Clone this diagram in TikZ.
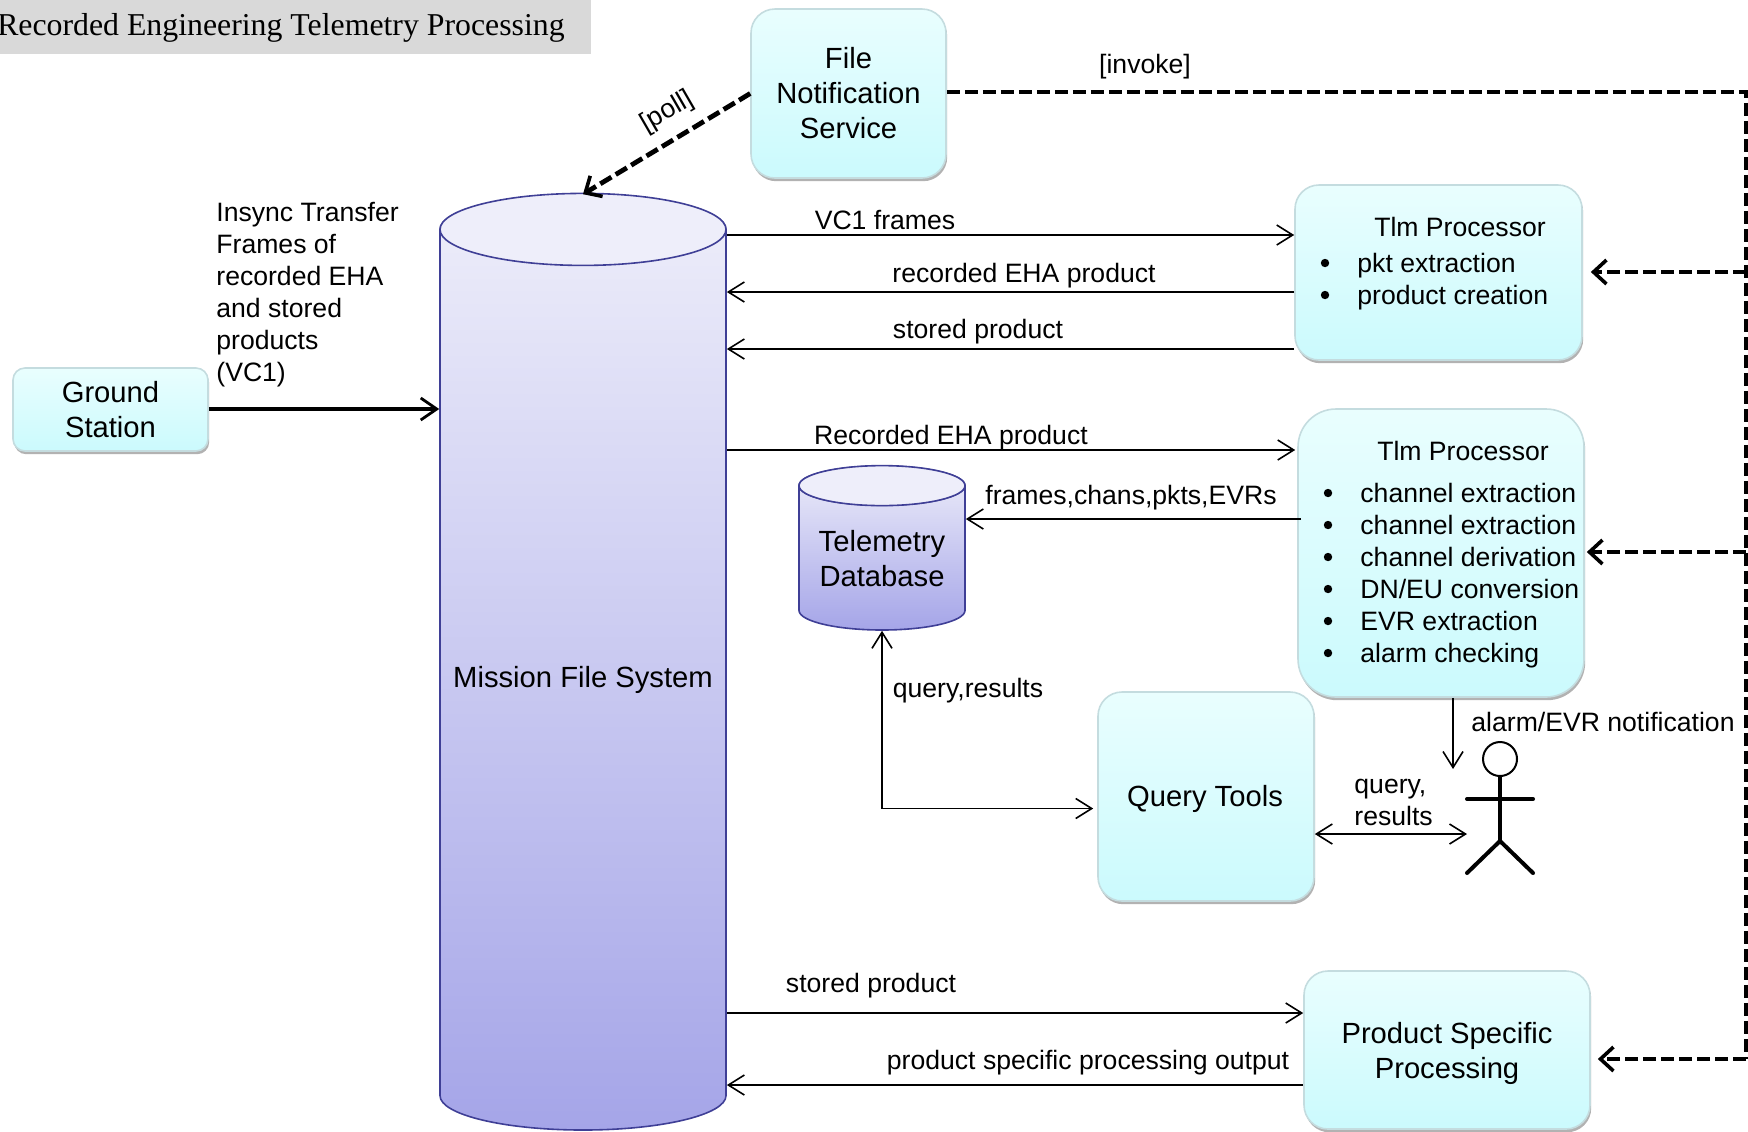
\documentclass[tikz,border=0pt]{standalone}
\usepackage{fontspec}
\setmainfont{Liberation Sans}
\newfontfamily\headfont{Liberation Serif}
\usetikzlibrary{shapes.geometric, arrows.meta, shadows, calc}
\definecolor{boxedge}{HTML}{C4DCDF}
\definecolor{boxtop}{HTML}{E9FEFE}
\definecolor{boxbot}{HTML}{CBFAFD}
\definecolor{dbedge}{HTML}{3F3F96}
\definecolor{dbtop}{HTML}{EEEEFA}
\definecolor{dbbot}{HTML}{A5A5E8}
\newcommand{\smalltxt}{\fontsize{13.3}{16}\selectfont}
\newcommand{\bigtxt}{\fontsize{14.6}{17.5}\selectfont}
\tikzset{
    procbox/.style={draw=boxedge, line width=.8pt, rounded corners=12pt, top color=boxtop, bottom color=boxbot, inner sep=0pt, align=center, font=\bigtxt, drop shadow={shadow xshift=.6pt, shadow yshift=-1.6pt, fill=black!55, opacity=.55}},
    store/.style={cylinder, shape border rotate=90, draw=dbedge, line width=.8pt, top color=dbtop, bottom color=dbbot, inner sep=0pt, align=center, font=\bigtxt, anchor=shape center},
    storelid/.style={draw=dbedge, line width=.8pt, fill=dbtop},
    lab/.style={font=\smalltxt, inner sep=0pt},
    biglab/.style={font=\bigtxt, inner sep=0pt, align=center},
    bulletdot/.style={circle, fill=black, minimum size=4.2pt, inner sep=0pt},
    flow/.style={line width=.9pt, -{Straight Barb[length=8pt, width=10pt, line width=.8pt]}},
    flowboth/.style={line width=.9pt, {Straight Barb[length=8pt, width=10pt, line width=.8pt]}-{Straight Barb[length=8pt, width=10pt, line width=.8pt]}},
    trigger/.style={line width=2.4pt, dash pattern=on 6.5pt off 2.5pt},
    triggerto/.style={trigger, -{Straight Barb[length=6.5pt, width=12pt, line width=1.8pt]}},
    limb/.style={line width=2pt, line cap=round}
}
\begin{document}
\begin{tikzpicture}[x=.5pt, y=-.5pt]

    \useasboundingbox (0,0) rectangle (1748,1131);

    \fill[black!15] (0,0) rectangle (591,54);
    \node (heading) [anchor=east, inner sep=0pt, font=\headfont\fontsize{15.9}{18}\selectfont] at (565,28) {Recorded Engineering Telemetry Processing};

    \node (mfs) [store, minimum width=143pt, minimum height=467.5pt, aspect=.265] at (583,662.5) {\raisebox{-1.2pt}{Mission File System}};
    \draw[storelid] ($(mfs.before top)!.5!(mfs.after top)$) ellipse [x radius=143, y radius=36];

    \node (teldb) [store, minimum width=83pt, minimum height=82pt, aspect=.31] at (882,548) {Telemetry\\Database};
    \draw[storelid] ($(teldb.before top)!.5!(teldb.after top)$) ellipse [x radius=83, y radius=20];

    \node (ground) [procbox, rounded corners=6pt, minimum width=97.5pt, minimum height=41.5pt] at (110.5,409.5) {Ground\\Station};
    \node (notify) [procbox, minimum width=97.5pt, minimum height=84.5pt] at (848.5,93.5) {File\\Notification\\Service};
    \node (tlmrec) [procbox, minimum width=143.5pt, minimum height=87.5pt] at (1438.5,272.5) {};
    \node (tlmchan) [procbox, rounded corners=19pt, minimum width=143pt, minimum height=144pt] at (1441,553) {};
    \node (query) [procbox, minimum width=108pt, minimum height=104.5pt] at (1206,796.5) {};
    \node (prodsp) [procbox, minimum width=143pt, minimum height=79pt] at (1447,1050) {};
    \node (querytitle) [biglab] at (1205,799) {Query Tools};
    \node (prodsptitle) [biglab] at (1447,1053) {Product Specific\\Processing};

    \node (tlmrectitle) [lab] at (1460,227) {Tlm Processor};
    \foreach \txt [count=\nu from 0, evaluate={\yy=272+32*\nu; \yb=\yy-9;}] in {pkt extraction, product creation} {
        \node (recbul\nu) [bulletdot] at (1325,\yb) {};
        \node (recitem\nu) [lab, anchor=base west] at (1357,\yy) {\txt};
    }
    \node (tlmchantitle) [lab] at (1463,451) {Tlm Processor};
    \foreach \txt [count=\nu from 0, evaluate={\yy=502+32*\nu; \yb=\yy-9;}] in {channel extraction, channel extraction, channel derivation, DN/EU conversion, EVR extraction, alarm checking} {
        \node (chanbul\nu) [bulletdot] at (1328,\yb) {};
        \node (chanitem\nu) [lab, anchor=base west] at (1360,\yy) {\txt};
    }

    \node (head) [circle, draw, line width=1pt, fill=white, minimum size=17pt, inner sep=0pt] at (1500,759) {};
    \coordinate (hip) at (1500,841);
    \coordinate (armleft) at (1467,799);
    \coordinate (armright) at (1533,799);
    \coordinate (footleft) at (1467,873);
    \coordinate (footright) at (1533,873);
    \draw[limb] (head.south) -- (hip);
    \draw[limb] (armleft) -- (armright);
    \draw[limb] (footleft) -- (hip) -- (footright);

    \draw[line width=1.7pt, -{Straight Barb[length=8pt, width=11pt, line width=1.4pt]}] (ground.east |- 0,409) -- (mfs.west |- 0,409);
    \draw[flow] (mfs.east |- 0,235) -- (tlmrec.west |- 0,235);
    \draw[flow] (tlmrec.west |- 0,292) -- (mfs.east |- 0,292);
    \draw[flow] (tlmrec.west |- 0,349) -- (mfs.east |- 0,349);
    \draw[flow, shorten >=1pt] (mfs.east |- 0,450) -- (tlmchan.west |- 0,450);
    \draw[flow] ($(tlmchan.west |- 0,519)+(4,0)$) -- (teldb.east |- 0,519);
    \draw[flowboth, shorten >=2pt] (teldb.south) |- ([yshift=-6pt]query.west);
    \draw[flow] (tlmchan.south -| 1453,0) -- (1453,769);
    \draw[flowboth] (query.east |- 0,834) -- (armleft |- 0,834);
    \draw[flow] (mfs.east |- 0,1013) -- (prodsp.west |- 0,1013);
    \draw[flow] (prodsp.west |- 0,1085) -- (mfs.east |- 0,1085);

    \coordinate (bend) at (1746,92);
    \draw[trigger] (notify.east |- bend) -- (bend) -- (1746,1059);
    \draw[triggerto] (notify.west) -- (mfs.top);
    \draw[triggerto, shorten >=4pt] (1746,272) -- (tlmrec.east |- 0,272);
    \draw[triggerto, shorten >=1pt] (1746,552) -- (tlmchan.east |- 0,552);
    \draw[triggerto, shorten >=3.5pt] (1746,1059) -- (prodsp.east |- 0,1059);

    \node (poll) [lab, rotate=30] at (667,112) {[poll]};
    \node (invoke) [lab] at (1145,67) {[invoke]};
    \node (insync) [lab, anchor=west, align=left] at (216,295) {Insync Transfer\\Frames of\\recorded EHA\\and stored\\products\\(VC1)};
    \node (vcframes) [lab] at (885,220) {VC1 frames};
    \node (recprod) [lab] at (1024,276) {recorded EHA product};
    \node (storedup) [lab] at (978,332) {stored product};
    \node (recprodb) [lab] at (951,438) {Recorded EHA product};
    \node (frameslab) [lab] at (1131,498) {frames,chans,pkts,EVRs};
    \node (querylab) [lab] at (968,691) {query,results};
    \node (alarmlab) [lab] at (1603,722) {alarm/EVR notification};
    \node (queryact) [lab, anchor=west, align=left] at (1354,802) {query,\\results};
    \node (storedlow) [lab] at (871,986) {stored product};
    \node (outlab) [lab] at (1088,1063) {product specific processing output};

\end{tikzpicture}
\end{document}
